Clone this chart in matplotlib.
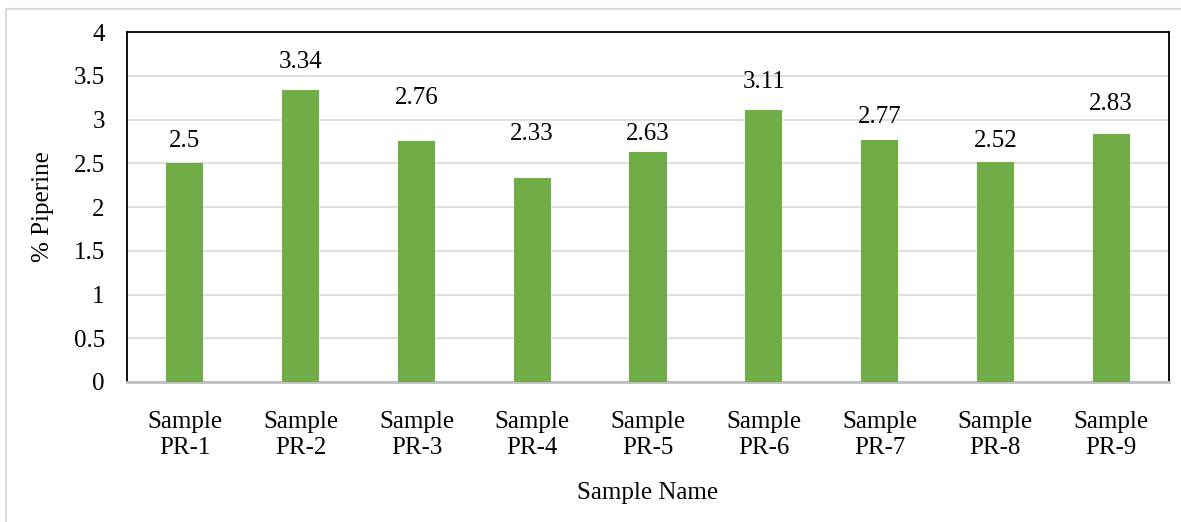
import numpy as np
import matplotlib.pyplot as plt
from matplotlib.patches import Rectangle

samples = ["Sample\nPR-1", "Sample\nPR-2", "Sample\nPR-3", "Sample\nPR-4", "Sample\nPR-5",
           "Sample\nPR-6", "Sample\nPR-7", "Sample\nPR-8", "Sample\nPR-9"]
piperine = [2.5, 3.34, 2.76, 2.33, 2.63, 3.11, 2.77, 2.52, 2.83]

# how far each value label sits above its bar (data units)
label_lift = [0.25, 0.32, 0.49, 0.51, 0.20, 0.32, 0.26, 0.23, 0.35]

plt.rcParams['font.family'] = ['Liberation Serif', 'DejaVu Serif']
fs = 18

fig = plt.figure(figsize=(11.81, 5.22), dpi=100)
ax = fig.add_axes([127 / 1181, 140 / 522, 1042 / 1181, 350 / 522])

# light frame around the whole chart
fig.patches.append(Rectangle((6 / 1181, -0.1), 1.2, 1 - 9 / 522 + 0.1,
                             transform=fig.transFigure, fill=False,
                             edgecolor='#d9d9d9', linewidth=1.5))

x = np.arange(len(samples))
ax.bar(x, piperine, width=0.32, color='#70ad47', zorder=3)

for xi, v, lift in zip(x, piperine, label_lift):
    ax.text(xi, v + lift, f"{v:g}", ha='center', va='center', fontsize=fs)

ticks = np.arange(0, 4.01, 0.5)
ax.set_xlim(-0.5, len(samples) - 0.5)
ax.set_ylim(0, 4)
ax.set_yticks(ticks)
ax.set_yticklabels([f"{t:g}" for t in ticks], fontsize=fs)
ax.set_xticks(x)
ax.set_xticklabels(samples, linespacing=1.2, fontsize=fs)
ax.tick_params(axis='both', length=0)
ax.tick_params(axis='x', pad=21)
ax.tick_params(axis='y', pad=16)

ax.grid(axis='y', color='#d9d9d9', linewidth=1.2, zorder=0)
ax.set_axisbelow(True)

for side in ['left', 'top', 'right']:
    ax.spines[side].set_color('black')
    ax.spines[side].set_linewidth(1.3)
ax.spines['bottom'].set_color('#bfbfbf')
ax.spines['bottom'].set_linewidth(2)

ax.set_ylabel('% Piperine', fontsize=fs, labelpad=14)
ax.set_xlabel('Sample Name', fontsize=fs, labelpad=17)

fig.savefig('out.png', dpi=100)
